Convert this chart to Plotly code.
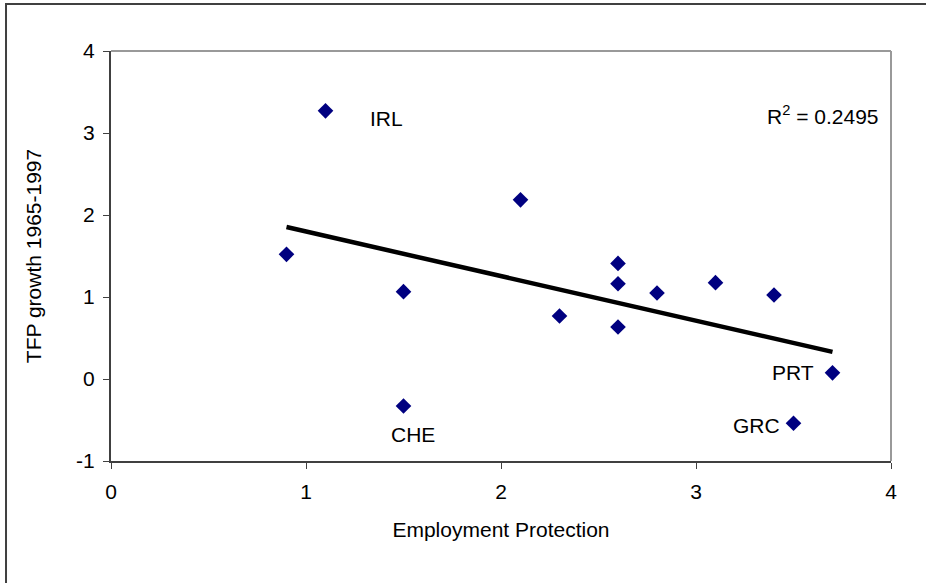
import numpy as np
import plotly.graph_objects as go

# Data
employment_protection = [0.9, 1.1, 1.5, 1.5, 2.1, 2.3, 2.6, 2.6, 2.6, 2.8, 3.1, 3.4, 3.5, 3.7]
tfp_growth = [1.52, 3.27, 1.065, -0.33, 2.185, 0.768, 1.41, 1.162, 0.634, 1.049, 1.175, 1.024, -0.54, 0.075]
point_labels = ["", "IRL", "", "CHE", "", "", "", "", "", "", "", "", "GRC", "PRT"]
x_ticks = [0, 1, 2, 3, 4]
y_ticks = [-1, 0, 1, 2, 3, 4]
y_tick_text = ["-1", "0", "1", "2", "3", "4"]
r2_text = "R<sup>2</sup> = 0.2495"

FONT = "Liberation Sans, Arial, sans-serif"
FS = 21

xs = np.array(employment_protection)
ys = np.array(tfp_growth)
slope, intercept = np.polyfit(xs, ys, 1)
tx = np.array([xs.min(), xs.max()])
ty = slope * tx + intercept

fig = go.Figure()
fig.add_trace(go.Scatter(x=tx, y=ty, mode="lines",
                         line=dict(color="black", width=4.5), hoverinfo="skip"))
fig.add_trace(go.Scatter(x=employment_protection, y=tfp_growth, mode="markers",
                         marker=dict(symbol="diamond", size=12, color="#000080",
                                     line=dict(width=0))))

# label offsets (pixels) per labelled point
offsets = {"IRL": (42, -8, "left"), "CHE": (9, -28, "center"),
           "PRT": (-17, 0, "right"), "GRC": (-12, -2, "right")}
annotations = []
for x, y, lab in zip(employment_protection, tfp_growth, point_labels):
    if lab:
        dx, dy, anc = offsets[lab]
        annotations.append(dict(x=x, y=y, text=lab, showarrow=False, xanchor=anc,
                                yanchor="middle", xshift=dx, yshift=dy,
                                font=dict(family=FONT, size=FS, color="black")))
annotations.append(dict(x=3.354, y=3.22, text=r2_text, showarrow=False, xanchor="left",
                        yanchor="middle", font=dict(family=FONT, size=FS, color="black")))

shapes = [
    # outer chart border (only top/left visible)
    dict(type="rect", xref="paper", yref="paper", x0=-0.1346, x1=1.08, y0=-0.35, y1=1.1146,
         line=dict(color="#404040", width=2), fillcolor="rgba(0,0,0,0)", layer="below"),
    # plot area top and right edges (gray)
    dict(type="line", xref="paper", yref="paper", x0=0, x1=1, y0=1, y1=1,
         line=dict(color="#999999", width=2)),
    dict(type="line", xref="paper", yref="paper", x0=1, x1=1, y0=0, y1=1,
         line=dict(color="#999999", width=2)),
]

fig.update_layout(
    width=926, height=583,
    margin=dict(l=111, r=35, t=51, b=122),
    paper_bgcolor="white", plot_bgcolor="white",
    showlegend=False,
    font=dict(family=FONT, size=FS, color="black"),
    annotations=annotations,
    shapes=shapes,
    xaxis=dict(range=[0, 4], tickvals=x_ticks, showgrid=False, zeroline=False,
               showline=True, linecolor="#404040", linewidth=2,
               ticks="outside", ticklen=6, tickcolor="#404040", tickwidth=1,
               ticklabelstandoff=5,
               tickfont=dict(family=FONT, size=FS, color="black"),
               title=dict(text="Employment Protection", standoff=20,
                          font=dict(family=FONT, size=FS, color="black"))),
    yaxis=dict(range=[-1, 4], tickvals=y_ticks, ticktext=y_tick_text,
               showgrid=False, zeroline=False,
               showline=True, linecolor="#404040", linewidth=2,
               ticks="outside", ticklen=6, tickcolor="#404040", tickwidth=1,
               ticklabelstandoff=4,
               tickfont=dict(family=FONT, size=FS, color="black"),
               title=dict(text="TFP growth 1965-1997", standoff=29,
                          font=dict(family=FONT, size=FS, color="black"))),
)

fig.write_html("out.html", config={"displayModeBar": False},
               post_script="document.body.style.margin='0';")
